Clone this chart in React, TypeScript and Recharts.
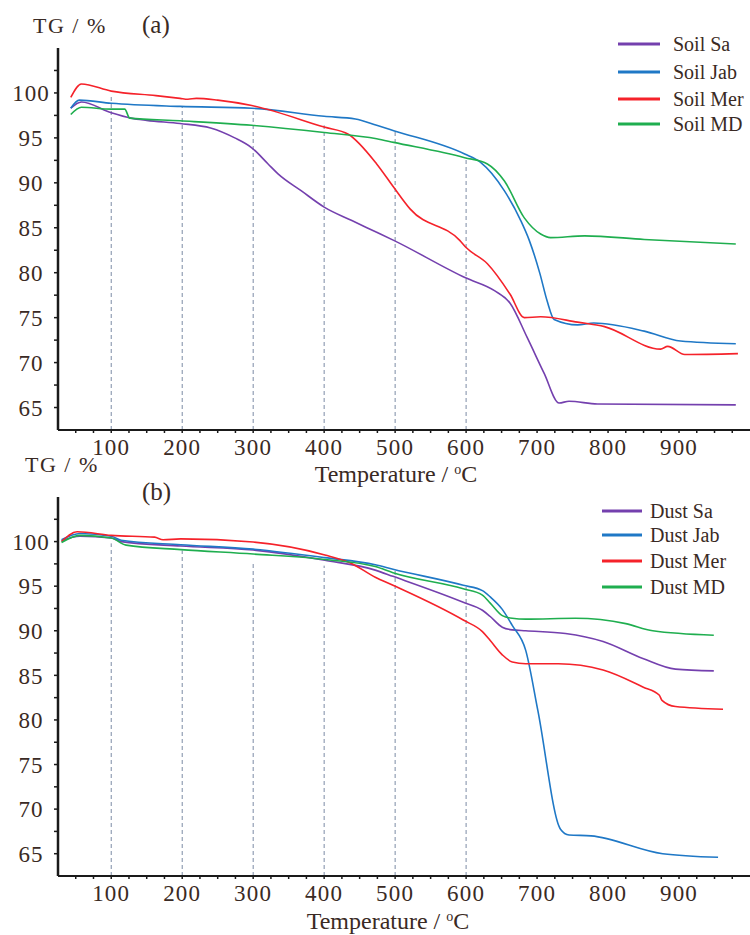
import React from 'react';
import { LineChart, Line, XAxis, YAxis, ReferenceLine, Customized } from 'recharts';

// ---------- Panel (a): soils ----------
const soilSaT = [43, 58, 100, 128, 150, 197, 240, 274, 298, 321, 335, 368, 400, 439, 474, 498, 600, 640, 662, 686, 710, 731, 745, 785, 980];
const soilSaV = [98.3, 99.0, 97.8, 97.2, 96.95, 96.6, 96.1, 95.0, 93.9, 92.1, 91.0, 89.1, 87.3, 85.8, 84.5, 83.6, 79.4, 78.0, 76.6, 72.8, 68.8, 65.5, 65.7, 65.4, 65.3];

const soilJabT = [43, 55, 100, 197, 298, 400, 444, 474, 498, 598, 620, 654, 677, 689, 704, 714, 724, 757, 780, 851, 902, 980];
const soilJabV = [98.3, 99.2, 98.85, 98.5, 98.3, 97.4, 97.1, 96.4, 95.8, 93.2, 92.3, 89.1, 85.8, 83.6, 79.9, 76.9, 74.8, 74.2, 74.4, 73.5, 72.4, 72.1];

const soilMerT = [43, 58, 100, 163, 197, 208, 220, 250, 298, 400, 434, 474, 498, 521, 591, 600, 630, 662, 682, 705, 757, 795, 874, 884, 908, 983];
const soilMerV = [99.5, 101.0, 100.2, 99.7, 99.4, 99.3, 99.4, 99.2, 98.6, 96.2, 95.4, 92.1, 89.5, 87.1, 83.6, 82.8, 81.0, 77.6, 75.0, 75.1, 74.5, 74.0, 71.5, 71.8, 70.9, 71.0];

const soilMdT = [43, 58, 100, 119, 126, 197, 298, 400, 474, 498, 598, 630, 654, 682, 705, 719, 767, 851, 980];
const soilMdV = [97.6, 98.4, 98.2, 98.2, 97.2, 96.9, 96.4, 95.6, 94.9, 94.5, 92.8, 92.1, 90.2, 86.1, 84.3, 83.9, 84.1, 83.7, 83.2];

// ---------- Panel (b): dusts ----------
const dustSaT = [30, 56, 100, 114, 198, 300, 401, 472, 497, 596, 623, 634, 651, 665, 684, 740, 793, 849, 895, 949];
const dustSaV = [100.1, 100.6, 100.4, 100.0, 99.5, 99.05, 97.9, 96.8, 96.1, 93.2, 92.3, 91.6, 90.4, 90.1, 90.0, 89.7, 88.8, 86.9, 85.7, 85.5];

const dustJabT = [30, 56, 100, 114, 198, 300, 401, 472, 497, 596, 623, 634, 651, 665, 684, 701, 733, 745, 776, 877, 955];
const dustJabV = [100.2, 100.9, 100.6, 100.15, 99.65, 99.15, 98.2, 97.4, 96.9, 95.1, 94.5, 93.8, 92.4, 90.6, 87.8, 81.1, 67.75, 67.1, 67.0, 65.0, 64.6];

const dustMerT = [30, 52, 100, 161, 173, 198, 300, 401, 437, 472, 497, 596, 623, 634, 651, 665, 684, 730, 793, 849, 872, 876, 895, 962];
const dustMerV = [100.0, 101.1, 100.7, 100.5, 100.2, 100.3, 99.95, 98.5, 97.6, 96.0, 95.1, 91.2, 89.9, 88.9, 87.3, 86.5, 86.3, 86.3, 85.6, 83.7, 82.8, 82.2, 81.5, 81.2];

const dustMdT = [30, 56, 100, 121, 198, 300, 401, 472, 497, 596, 623, 634, 651, 665, 684, 754, 825, 863, 949];
const dustMdV = [99.9, 100.7, 100.4, 99.6, 99.1, 98.6, 98.0, 97.2, 96.5, 94.7, 94.0, 93.1, 91.7, 91.4, 91.3, 91.4, 90.8, 90.0, 89.5];

// ---------- guides & ticks ----------
const refTemps = [100, 200, 300, 400, 500, 600];
const refTopA = [99.85, 98.5, 98.0, 96.4, 95.8, 92.7];
const refTopB = [99.8, 99.0, 97.6, 97.3, 96.8, 94.9];

const xTicks = [50, 75, 100, 125, 150, 175, 200, 225, 250, 275, 300, 325, 350, 375, 400, 425, 450, 475, 500, 525, 550, 575, 600, 625, 650, 675, 700, 725, 750, 775, 800, 825, 850, 875, 900, 925, 950, 975];
const xLabels = [100, 200, 300, 400, 500, 600, 700, 800, 900];
const yTicks = [65, 67.5, 70, 72.5, 75, 77.5, 80, 82.5, 85, 87.5, 90, 92.5, 95, 97.5, 100, 102.5];
const yLabels = [65, 70, 75, 80, 85, 90, 95, 100];

const namesA = ['Soil Sa', 'Soil Jab', 'Soil Mer', 'Soil MD'];
const namesB = ['Dust Sa', 'Dust Jab', 'Dust Mer', 'Dust MD'];
const colors = ['#7440ae', '#1f78c6', '#f5222a', '#1fae4f'];

const zip = (t: number[], v: number[]) => t.map((x, i) => ({ t: x, v: v[i] }));

const seriesA = [zip(soilSaT, soilSaV), zip(soilJabT, soilJabV), zip(soilMerT, soilMerV), zip(soilMdT, soilMdV)];
const seriesB = [zip(dustSaT, dustSaV), zip(dustJabT, dustJabV), zip(dustMerT, dustMerV), zip(dustMdT, dustMdV)];

const SERIF = '"Liberation Serif", "DejaVu Serif", "Times New Roman", serif';
const TXT = '#3a2a24';
const AXIS = '#1a1a1a';

const YTick = (props: any) => {
  const { y, payload } = props;
  if (!yLabels.includes(payload.value)) return <g />;
  return (
    <text x={31} y={y} dy="0.36em" textAnchor="middle" fontSize={23} letterSpacing={1} fill={TXT} style={{ fontFamily: SERIF }}>
      {payload.value}
    </text>
  );
};

const XTick = (props: any) => {
  const { x, y, payload } = props;
  if (!xLabels.includes(payload.value)) return <g />;
  return (
    <text x={x} y={y} dy="0.71em" textAnchor="middle" fontSize={23} letterSpacing={1.2} fill={TXT} style={{ fontFamily: SERIF }}>
      {payload.value}
    </text>
  );
};

type PanelProps = {
  top: number;
  height: number;
  marginTop: number;
  xAxisHeight: number;
  tickMargin: number;
  series: { t: number; v: number }[][];
  names: string[];
  refTops: number[];
  tag: string;
  tgX: number;
  tgY: number;
  tagY: number;
  tempX: number;
  tempY: number;
  legendY: number[];
  legendX1: number;
  legendX2: number;
  legendTextX: number;
};

function Panel(p: PanelProps) {
  const overlay = () => (
    <g fill={TXT} style={{ fontFamily: SERIF }}>
      <text x={p.tgX} y={p.tgY} fontSize={22} letterSpacing={1.5}>TG / %</text>
      <text x={142} y={p.tagY} fontSize={25}>{p.tag}</text>
      <text x={p.tempX} y={p.tempY} fontSize={24} textAnchor="middle">
        Temperature / <tspan fontSize={14} dy={-8}>o</tspan>
        <tspan dy={8}>C</tspan>
      </text>
      {p.names.map((n, i) => (
        <g key={n}>
          <line x1={p.legendX1} x2={p.legendX2} y1={p.legendY[i]} y2={p.legendY[i]} stroke={colors[i]} strokeWidth={3} />
          <text x={p.legendTextX} y={p.legendY[i]} dy="0.35em" fontSize={20}>{n}</text>
        </g>
      ))}
    </g>
  );
  return (
    <div style={{ position: 'absolute', left: 0, top: p.top }}>
      <LineChart width={750} height={p.height} margin={{ top: p.marginTop, right: 0, bottom: 0, left: 0 }}>
        <XAxis
          type="number"
          dataKey="t"
          domain={[25, 1000]}
          ticks={xTicks}
          tick={XTick}
          tickSize={3}
          tickMargin={p.tickMargin}
          height={p.xAxisHeight}
          axisLine={{ stroke: AXIS, strokeWidth: 2 }}
          tickLine={{ stroke: AXIS, strokeWidth: 1.5 }}
          allowDataOverflow
          interval={0}
        />
        <YAxis
          type="number"
          dataKey="v"
          domain={[62.5, 105]}
          ticks={yTicks}
          tick={YTick}
          tickSize={4}
          width={58}
          axisLine={{ stroke: AXIS, strokeWidth: 2.5 }}
          tickLine={{ stroke: AXIS, strokeWidth: 1.5 }}
          allowDataOverflow
          interval={0}
        />
        {refTemps.map((t, i) => (
          <ReferenceLine
            key={t}
            segment={[{ x: t, y: 62.5 }, { x: t, y: p.refTops[i] }]}
            stroke="#7c8ba5"
            strokeDasharray="4 3"
            strokeWidth={1}
          />
        ))}
        {p.series.map((d, i) => (
          <Line
            key={p.names[i]}
            data={d}
            dataKey="v"
            name={p.names[i]}
            type="monotone"
            stroke={colors[i]}
            strokeWidth={1.6}
            dot={false}
            activeDot={false}
            isAnimationActive={false}
          />
        ))}
        <Customized component={overlay} />
      </LineChart>
    </div>
  );
}

export default function App() {
  return (
    <div style={{ position: 'absolute', left: 0, top: 0, width: 750, height: 935, background: '#fff' }}>
      <Panel
        top={0}
        height={490}
        marginTop={48}
        xAxisHeight={60}
        tickMargin={6}
        series={seriesA}
        names={namesA}
        refTops={refTopA}
        tag="(a)"
        tgX={33}
        tgY={33}
        tagY={33}
        tempX={396}
        tempY={482}
        legendY={[44, 72, 99, 124]}
        legendX1={618}
        legendX2={660}
        legendTextX={673}
      />
      <Panel
        top={440}
        height={495}
        marginTop={57}
        xAxisHeight={59}
        tickMargin={6}
        series={seriesB}
        names={namesB}
        refTops={refTopB}
        tag="(b)"
        tgX={25}
        tgY={32}
        tagY={60}
        tempX={388}
        tempY={489}
        legendY={[71, 95, 121, 147]}
        legendX1={602}
        legendX2={642}
        legendTextX={650}
      />
    </div>
  );
}
